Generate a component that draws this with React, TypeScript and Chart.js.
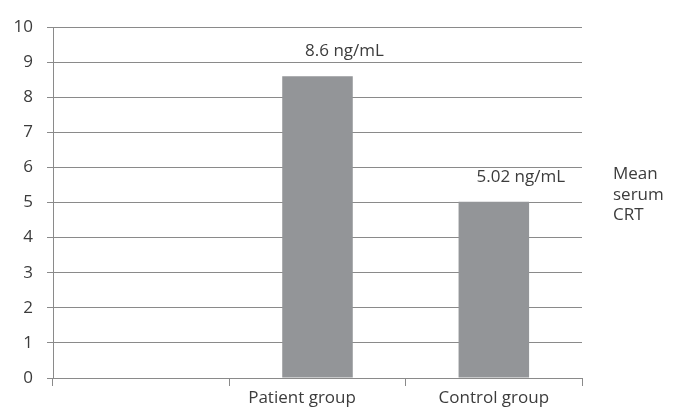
import React, { useEffect, useRef } from "react";
import { Chart, registerables } from "chart.js";

Chart.register(...registerables);

const categories = ["", "Patient group\u00a0\u00a0\u00a0\u00a0\u00a0\u00a0\u00a0", "Control group"];
const seriesName = "Mean serum CRT";
const meanValues = [null, 8.6, 5.02];
const valueLabels = ["", "8.6 ng/mL", "5.02 ng/mL"];
const yMin = 0;
const yMax = 10;

const FONT = "'Open Sans', 'Noto Sans', sans-serif";
const TEXT = "#3c3c3c";
const LINE = "#8a8a8a";

const labelPlugin = {
  id: "valueLabels",
  afterDatasetsDraw(chart: any) {
    const ctx = chart.ctx;
    const meta = chart.getDatasetMeta(0);
    ctx.save();
    ctx.font = `17px ${FONT}`;
    ctx.fillStyle = TEXT;
    ctx.textAlign = "center";
    ctx.textBaseline = "alphabetic";
    meta.data.forEach((bar: any, i: number) => {
      if (!valueLabels[i] || meanValues[i] == null) return;
      ctx.fillText(valueLabels[i], bar.x + 27, bar.y - 20);
    });
    const lines = seriesName.split(" ");
    ctx.textAlign = "left";
    const x = chart.chartArea.right + 31;
    lines.forEach((t: string, k: number) => {
      ctx.fillText(t, x, 179 + k * 20.5);
    });
    ctx.restore();
  },
};

export default function App() {
  const ref = useRef<HTMLCanvasElement | null>(null);
  useEffect(() => {
    document.body.style.margin = "0";
    const c = ref.current!;
    const chart = new Chart(c, {
      type: "bar",
      data: {
        labels: categories,
        datasets: [
          {
            label: seriesName,
            data: meanValues as any,
            backgroundColor: "#939598",
            borderWidth: 0,
            barPercentage: 0.4,
            categoryPercentage: 1,
          },
        ],
      },
      options: {
        animation: false,
        responsive: false,
        maintainAspectRatio: false,
        layout: { padding: { top: 27, right: 110, left: 0, bottom: 0 } },
        plugins: { legend: { display: false }, tooltip: { enabled: false } },
        scales: {
          x: {
            grid: {
              offset: true,
              drawOnChartArea: false,
              drawTicks: true,
              tickLength: 8,
              color: LINE,
              lineWidth: 1,
            },
            border: { display: true, color: LINE, width: 1 },
            ticks: {
              color: TEXT,
              font: { family: FONT, size: 17 },
              padding: 2,
              maxRotation: 0,
              autoSkip: false,
            },
            afterFit: (s: any) => {
              s.height = 40;
            },
          },
          y: {
            min: yMin,
            max: yMax,
            grid: { color: LINE, lineWidth: 1, tickLength: 6 },
            border: { display: true, color: LINE, width: 1 },
            ticks: {
              stepSize: 1,
              color: TEXT,
              font: { family: FONT, size: 17 },
              padding: 14,
            },
            afterFit: (s: any) => {
              s.width = 53;
            },
          },
        },
      },
      plugins: [labelPlugin],
    });
    return () => chart.destroy();
  }, []);
  return <canvas ref={ref} width={692} height={418} style={{ display: "block" }} />;
}
